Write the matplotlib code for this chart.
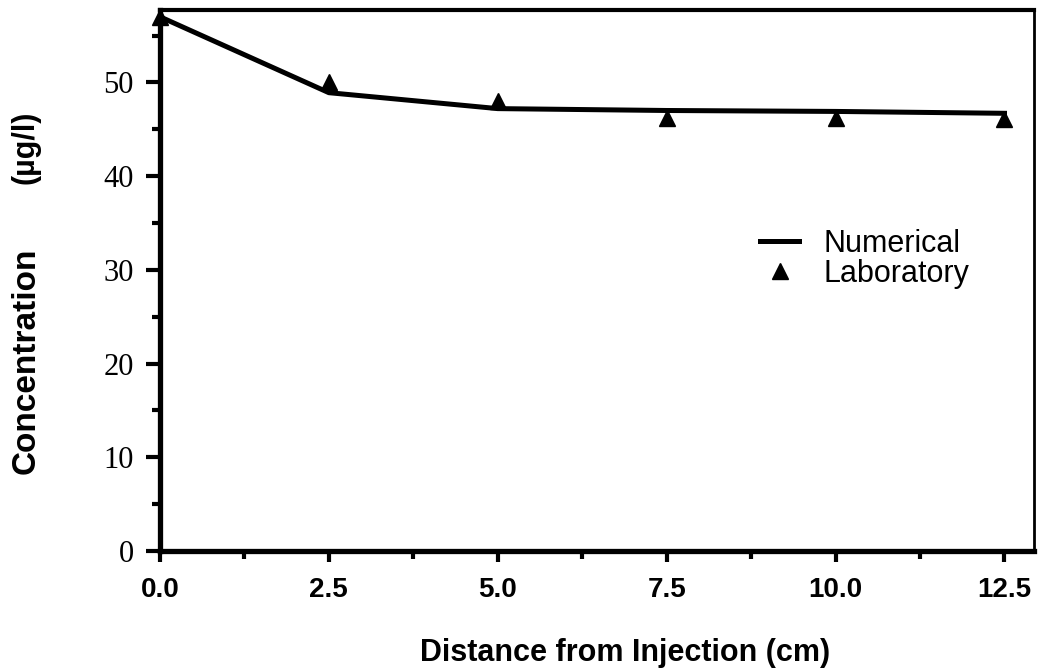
import matplotlib.pyplot as plt
from matplotlib.ticker import MultipleLocator

# Concentration profile along the column
num_x = [0.0, 2.5, 5.0, 7.5, 10.0, 12.5]
num_conc = [57.0, 48.9, 47.2, 47.0, 46.9, 46.7]

lab_x = [0.0, 2.5, 5.0, 7.5, 10.0, 12.5]
lab_conc = [57.0, 50.0, 48.0, 46.2, 46.2, 46.1]

x_ticks = [0.0, 2.5, 5.0, 7.5, 10.0, 12.5]
x_tick_labels = ['0.0', '2.5', '5.0', '7.5', '10.0', '12.5']
y_ticks = [0, 10, 20, 30, 40, 50]

plt.rcParams['font.family'] = ['Liberation Sans', 'DejaVu Sans']

fig = plt.figure(figsize=(10.4, 6.71), dpi=100)
ax = fig.add_axes([0.1538, 0.1788, 0.840, 0.806])

ax.plot(num_x, num_conc, color='black', linewidth=3.6, label='Numerical',
        solid_joinstyle='round', clip_on=False)
ax.plot(lab_x, lab_conc, linestyle='none', marker='^', markersize=11,
        color='black', label='Laboratory', clip_on=False)

ax.set_xlim(0, 12.93)
ax.set_ylim(0, 57.7)

ax.set_xticks(x_ticks)
ax.set_xticklabels(x_tick_labels, fontsize=20, fontweight='bold')
ax.xaxis.set_minor_locator(MultipleLocator(1.25))
ax.set_yticks(y_ticks)
ax.set_yticklabels([str(v) for v in y_ticks], fontsize=22,
                   family=['Liberation Serif', 'DejaVu Serif'])
ax.yaxis.set_minor_locator(MultipleLocator(5))

ax.tick_params(axis='x', which='major', direction='out', length=8, width=3, pad=11)
ax.tick_params(axis='x', which='minor', direction='out', length=6, width=3)
ax.tick_params(axis='y', which='major', direction='out', length=10, width=3, pad=9)
ax.tick_params(axis='y', which='minor', direction='out', length=6, width=3)

for side in ['left', 'bottom']:
    ax.spines[side].set_linewidth(3.8)
ax.spines['top'].set_linewidth(3.0)
ax.spines['right'].set_linewidth(2.0)

ax.set_xlabel('Distance from Injection (cm)', fontsize=22, fontweight='bold')
ax.xaxis.set_label_coords(0.532, -0.16)
fig.text(0.025, 0.463, 'Concentration', rotation=90, fontsize=24,
         fontweight='bold', ha='center', va='center')
fig.text(0.025, 0.781, '(\u00b5g/l)', rotation=90, fontsize=22,
         fontweight='bold', ha='center', va='center')

ax.legend(loc='upper left', bbox_to_anchor=(0.669, 0.624), frameon=False,
          fontsize=22, handlelength=1.3, handletextpad=0.8,
          labelspacing=0.0, borderpad=0)

fig.savefig('out.png', dpi=100)
